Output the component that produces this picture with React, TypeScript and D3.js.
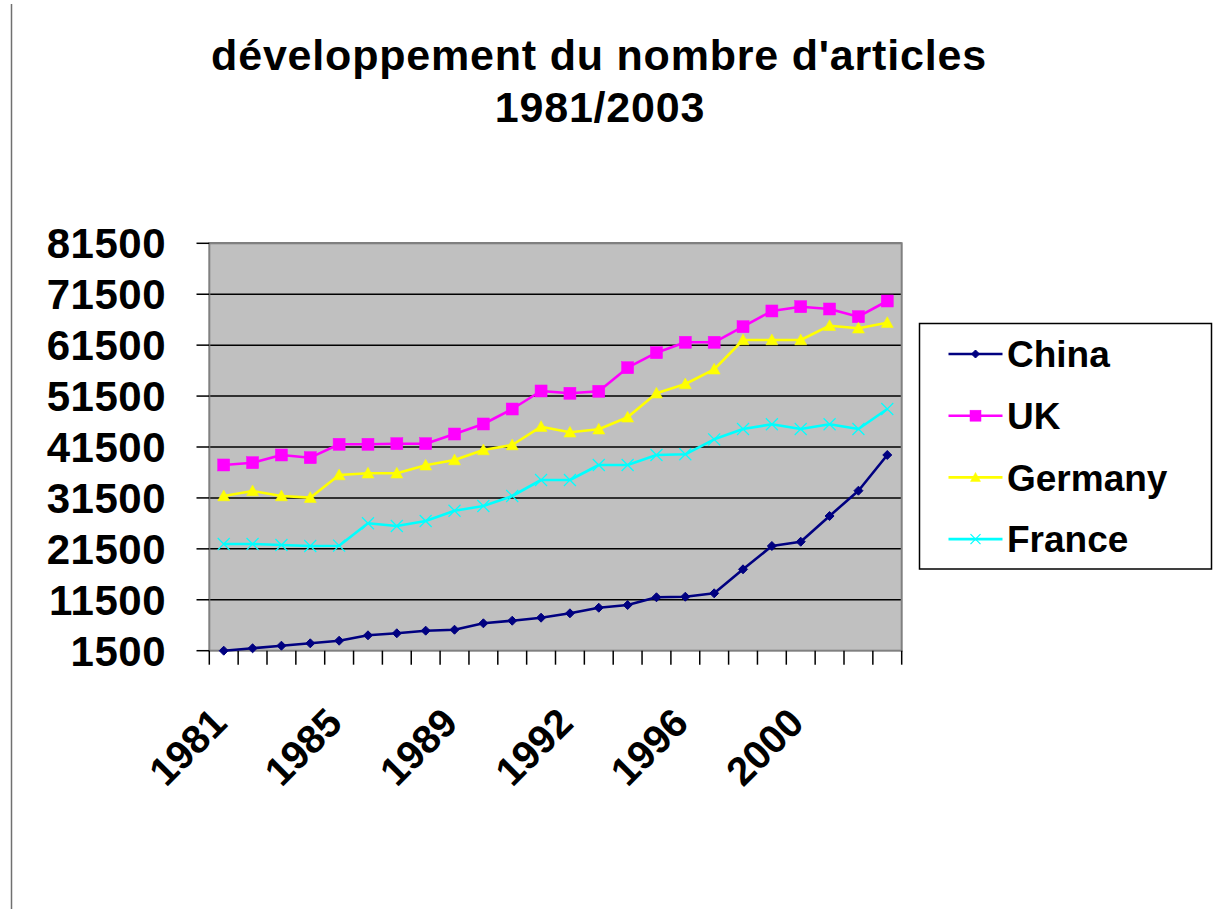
import React from "react";
import * as d3 from "d3";

const categories = ["1981","1982","1983","1984","1985","1986","1987","1988","1989","1990","1991","1991b","1992","1993","1994","1995","1996","1997","1998","1999","2000","2001","2002","2003"];
const tickLabels = ["1981","","","","1985","","","","1989","","","","1992","","","","1996","","","","2000","","",""];
const yTicks = [1500, 11500, 21500, 31500, 41500, 51500, 61500, 71500, 81500];

const china = [1500,1970,2480,2950,3460,4520,4920,5430,5620,6880,7390,7980,8840,9940,10470,11990,12100,12770,17480,22060,22900,27950,32920,39930];
const uk = [37970,38420,39930,39400,42030,42030,42150,42150,44050,46020,48960,52500,52050,52440,57070,60020,62060,62060,65120,68210,69050,68600,67090,70170];
const germany = [31880,32860,31880,31550,36000,36340,36340,37910,38950,40910,41890,45490,44390,44980,47330,52050,53870,56760,62510,62510,62510,65320,64810,65910];
const france = [22450,22450,22260,22060,22120,26520,25990,26970,28990,29920,31880,35020,35020,37970,37970,39930,40070,43010,45040,45960,45040,45960,45040,48960];

const seriesNames = ["China", "UK", "Germany", "France"];
const seriesData = [china, uk, germany, france];
const seriesColors = ["#000080", "#FF00FF", "#FFFF00", "#00FFFF"];
const seriesMarkers = ["diamond", "square", "triangle", "x"];

const FONT = "'Liberation Sans', Arial, sans-serif";

function Marker({ type, x, y, color, size }: { type: string; x: number; y: number; color: string; size: number }) {
  const h = size / 2;
  if (type === "diamond") {
    return <path d={`M${x},${y - h}L${x + h},${y}L${x},${y + h}L${x - h},${y}Z`} fill={color} stroke={color} strokeWidth={1} />;
  }
  if (type === "square") {
    return <rect x={x - h} y={y - h} width={size} height={size} fill={color} stroke={color} strokeWidth={0.5} />;
  }
  if (type === "triangle") {
    return <path d={`M${x},${y - h}L${x + h},${y + h * 0.8}L${x - h},${y + h * 0.8}Z`} fill={color} stroke={color} strokeWidth={0.5} />;
  }
  return (
    <path d={`M${x - h},${y - h}L${x + h},${y + h}M${x - h},${y + h}L${x + h},${y - h}`} stroke={color} strokeWidth={1.2} fill="none" />
  );
}

const markerSizes = [9, 12, 12, 12];
const legendMarkerSizes = [8, 11, 10, 10];

export default function App() {
  const left = 209.3, right = 901.7, top = 243.3, bottom = 650.7;
  const x = d3.scaleBand<number>().domain(d3.range(categories.length)).range([left, right]).paddingInner(0).paddingOuter(0);
  const y = d3.scaleLinear().domain([1500, 81500]).range([bottom, top]);
  const cx = (i: number) => (x(i) as number) + x.bandwidth() / 2;
  const line = d3.line<number>().x((_, i) => cx(i)).y((d) => y(d));

  const boundaries = d3.range(categories.length + 1).map((i) => left + i * x.bandwidth());

  return (
    <svg width={1216} height={909} style={{ position: "absolute", left: 0, top: 0 }} fontFamily={FONT}>
      <rect x={0} y={0} width={1216} height={909} fill="#ffffff" />
      <line x1={11.5} y1={4} x2={11.5} y2={909} stroke="#707070" strokeWidth={1.5} />

      <text x={599} y={70} textAnchor="middle" fontWeight="bold" fontSize={43} letterSpacing={0.8}>développement du nombre d'articles</text>
      <text x={600} y={122} textAnchor="middle" fontWeight="bold" fontSize={43} letterSpacing={0.8}>1981/2003</text>

      <rect x={left} y={top} width={right - left} height={bottom - top} fill="#C0C0C0" />
      {yTicks.slice(1).map((t) => (
        <line key={t} x1={left} x2={right} y1={y(t)} y2={y(t)} stroke="#000" strokeWidth={1.5} />
      ))}
      <rect x={left} y={top} width={right - left} height={bottom - top} fill="none" stroke="#808080" strokeWidth={2} />

      {yTicks.map((t) => (
        <g key={t}>
          <line x1={196.5} x2={left} y1={y(t)} y2={y(t)} stroke="#000" strokeWidth={1.5} />
          <text x={166} y={y(t)} dy="0.36em" textAnchor="end" fontWeight="bold" fontSize={42} letterSpacing={0.5}>{d3.format("d")(t)}</text>
        </g>
      ))}
      {boundaries.map((b, i) => (
        <line key={i} x1={b} x2={b} y1={bottom} y2={bottom + 14} stroke="#000" strokeWidth={1.5} />
      ))}
      {tickLabels.map((lab, i) =>
        lab ? (
          <text key={i} transform={`translate(${cx(i) - 5},${715}) rotate(-45)`} textAnchor="end" dy="0.36em" fontWeight="bold" fontSize={40}>{lab}</text>
        ) : null
      )}

      {seriesData.map((data, s) => (
        <g key={seriesNames[s]}>
          <path d={line(data) || ""} fill="none" stroke={seriesColors[s]} strokeWidth={2.6} strokeLinejoin="round" />
          {data.map((v, i) => (
            <Marker key={i} type={seriesMarkers[s]} x={cx(i)} y={y(v)} color={seriesColors[s]} size={markerSizes[s]} />
          ))}
        </g>
      ))}

      <rect x={919.5} y={323.5} width={292} height={245.5} fill="#ffffff" stroke="#000" strokeWidth={1.5} />
      {seriesNames.map((name, s) => {
        const ly = 354 + s * 61.7;
        return (
          <g key={name}>
            <line x1={948.5} x2={1002.5} y1={ly} y2={ly} stroke={seriesColors[s]} strokeWidth={2.6} />
            <Marker type={seriesMarkers[s]} x={975.5} y={ly} color={seriesColors[s]} size={legendMarkerSizes[s]} />
            <text x={1007} y={ly} dy="0.36em" fontWeight="bold" fontSize={37}>{name}</text>
          </g>
        );
      })}
    </svg>
  );
}
